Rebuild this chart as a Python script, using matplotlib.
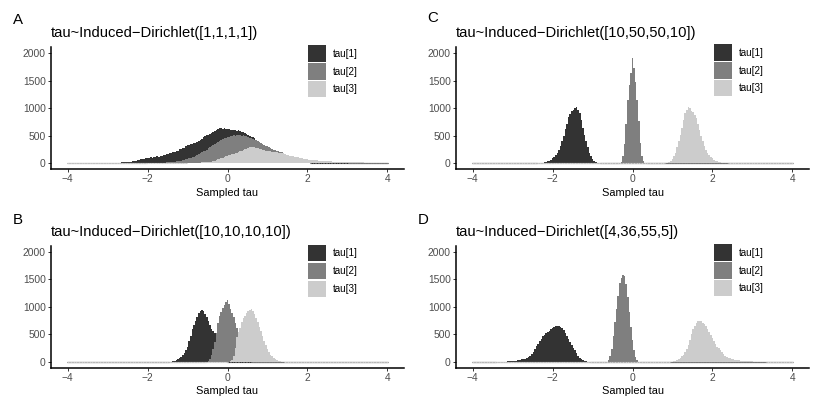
import matplotlib
matplotlib.use('Agg')
import matplotlib.pyplot as plt
import numpy as np
from matplotlib.patches import Patch

plt.rcParams['font.family'] = ['Liberation Sans', 'DejaVu Sans']

W, H = 822, 411
bin_width = 0.04
centers = np.round(np.arange(-4, 4 + bin_width / 2, bin_width), 2)

series_names = ['tau[1]', 'tau[2]', 'tau[3]']
fills = ['#333333', '#7f7f7f', '#cccccc']

# histogram counts per 0.04 bin, given from a first bin centre
a_tau1_start = -4.00
a_tau1 = [1, 1, 1, 2, 1, 2, 2, 3, 2, 3, 3, 4, 3, 4, 5, 4, 5, 6, 5, 7, 6, 8, 7, 9, 9, 10, 11, 10, 12, 13, 12, 13, 14,
          14, 16, 17, 19, 21, 23, 26, 30, 35, 42, 50, 58, 66, 72, 78, 84, 90,
          96, 92, 106, 104, 116, 112, 125, 122, 138, 132, 150, 146, 165, 160, 178, 186, 205, 198, 228, 226, 252, 258, 282, 280, 310,
          325, 330, 348, 352, 372, 375, 395, 400, 425, 440, 470, 490, 505, 515, 540, 550, 570, 580, 600, 615, 640, 645, 630, 640, 625,
          615, 630, 605, 610, 600, 605, 590, 595, 580, 570, 560, 555, 540, 520, 500, 485, 470, 450,
          430, 400, 360, 330, 300, 270, 240, 210, 185, 165, 145, 125, 110, 95, 80, 70, 60, 50, 42, 35, 30, 25, 20, 16, 13, 10, 8, 6, 5, 4, 3, 2, 2, 1]
a_tau2_start = -2.00
a_tau2 = [2, 2, 3, 3, 4, 5, 6, 7, 8, 10, 12, 14, 16, 19, 22, 25, 28, 32, 36, 40, 45, 50, 56, 62, 70,
          78, 88, 98, 108, 118, 130, 145, 160, 178, 196, 215, 232, 250, 270, 290, 310, 335, 350, 365, 385, 405, 420, 435, 450, 465,
          475, 480, 490, 500, 505, 495, 505, 515, 510, 500, 505, 495, 500, 470, 460, 450, 440, 425, 415, 400, 385, 370, 355, 335, 320,
          305, 290, 275, 260, 250, 240, 232, 222, 212, 200, 180, 160, 145, 130, 115, 100, 90, 80, 70, 62, 55, 48, 42, 37, 32,
          28, 25, 22, 19, 17, 15, 13, 11, 10, 9, 8, 7, 6, 5, 5, 4, 4, 3, 3, 3, 2, 2, 2, 1, 1, 1]
a_tau3_start = -1.00
a_tau3 = [2, 3, 4, 5, 6, 8, 10, 12, 14, 16, 18, 20, 22, 24, 27, 32, 40, 50, 60, 70, 82, 92, 102, 115, 125,
          135, 145, 155, 165, 175, 185, 195, 205, 215, 225, 240, 255, 265, 280, 290, 295, 300, 290, 285, 275, 265, 255, 250, 240, 232,
          225, 222, 218, 212, 208, 203, 198, 195, 192, 185, 178, 168, 158, 148, 138, 130, 125, 120, 115, 108, 100, 95, 88, 82, 77,
          72, 68, 64, 61, 58, 55, 52, 50, 48, 46, 44, 42, 40, 38, 36, 34, 32, 30, 29, 27, 26, 25, 24, 23, 22,
          21, 20, 19, 19, 18, 18, 17, 17, 16, 16, 15, 14, 14, 13, 12, 12, 11, 11, 10, 9, 9, 8, 7, 7, 6, 5]

b_tau1_start = -1.44
b_tau1 = [3, 6, 12, 20, 35, 55, 75, 95, 130, 170, 220, 280, 380, 480, 590, 680, 750, 820, 880, 920, 950, 930, 870, 810,
          740, 670, 600, 560, 520, 480, 360, 210, 100, 40, 12, 4]
b_tau2_start = -0.52
b_tau2 = [4, 15, 50, 120, 230, 370, 520, 700, 830, 910, 980, 1030, 1080, 1130, 1050, 960, 880, 810, 700, 610, 540, 450,
          340, 240, 150, 90, 45, 18, 6]
b_tau3_start = 0.04
b_tau3 = [4, 12, 40, 110, 260, 450, 540, 620, 720, 790, 840, 880, 920, 940, 960, 930, 870, 800, 720, 640, 560, 470, 380,
          300, 230, 180, 130, 100, 70, 48, 30, 18, 10, 5, 2]

c_tau1_start = -2.36
c_tau1 = [3, 5, 8, 12, 18, 25, 35, 50, 65, 90, 120, 150, 190, 250, 320, 400, 500, 620, 720, 840, 900, 950, 960, 1000,
          1020, 960, 920, 780, 640, 520, 400, 290, 190, 130, 80, 45, 25, 12, 5]
c_tau2_start = -0.32
c_tau2 = [5, 20, 140, 350, 715, 1150, 1420, 1630, 1915, 1720, 1480, 1150, 760, 370, 130, 40, 10]
c_tau3_start = 0.84
c_tau3 = [5, 12, 25, 45, 80, 130, 190, 290, 400, 520, 640, 780, 920, 970, 1020, 1010, 950, 930, 880, 820, 720, 610,
          500, 410, 320, 250, 190, 150, 115, 90, 65, 50, 35, 25, 18, 12, 8, 5, 3]

d_tau1_start = -3.40
d_tau1 = [2, 3, 4, 5, 6, 7, 8, 10, 12, 15, 18, 22, 26, 30, 36, 42, 48, 55, 62, 72, 90, 115, 150, 190, 240, 290, 335,
          380, 420, 465, 495, 525, 545, 565, 590, 610, 630, 650, 660, 655, 640, 610, 580, 520, 470, 420, 370, 310,
          260, 210, 160, 115, 80, 50, 30, 18, 10, 5, 2]
d_tau2_start = -0.64
d_tau2 = [8, 30, 100, 240, 470, 720, 960, 1200, 1430, 1520, 1580, 1560, 1420, 1180, 900, 640, 400, 210, 90, 30, 8]
d_tau3_start = 0.96
d_tau3 = [3, 8, 15, 25, 40, 55, 75, 100, 130, 180, 235, 300, 390, 500, 590, 660, 715, 745, 750, 740, 715, 685, 650,
          600, 550, 495, 440, 380, 330, 280, 245, 210, 180, 145, 115, 95, 78, 68, 58, 50, 45, 40, 35, 30, 27, 24, 21,
          19, 17, 15, 13, 11, 9, 8, 7, 6, 5, 4, 3, 2]


def spread(start, counts):
    out = np.zeros(len(centers))
    i0 = int(round((start + 4) / bin_width))
    out[i0:i0 + len(counts)] = counts
    return out


# tag, title, series, axes box (left, top, right, bottom px), tag xy, legend xy
panels = [
    ('A', 'tau~Induced\u2212Dirichlet([1,1,1,1])',
     [(a_tau1_start, a_tau1), (a_tau2_start, a_tau2), (a_tau3_start, a_tau3)],
     (51, 47.2, 404, 169.1), (13, 20), (307.5, 45.5)),
    ('B', 'tau~Induced\u2212Dirichlet([10,10,10,10])',
     [(b_tau1_start, b_tau1), (b_tau2_start, b_tau2), (b_tau3_start, b_tau3)],
     (51, 245.9, 404, 367.8), (13, 220), (307.5, 245)),
    ('C', 'tau~Induced\u2212Dirichlet([10,50,50,10])',
     [(c_tau1_start, c_tau1), (c_tau2_start, c_tau2), (c_tau3_start, c_tau3)],
     (456, 47.2, 809, 169.1), (427, 18.5), (713.5, 44.5)),
    ('D', 'tau~Induced\u2212Dirichlet([4,36,55,5])',
     [(d_tau1_start, d_tau1), (d_tau2_start, d_tau2), (d_tau3_start, d_tau3)],
     (456, 245.9, 809, 367.8), (417.5, 220), (713.5, 244.5)),
]

fig = plt.figure(figsize=(W / 100, H / 100), dpi=100)

for tag, title, series, box, tag_xy, leg_xy in panels:
    left, top, right, bottom = box
    ax = fig.add_axes([left / W, 1 - bottom / H, (right - left) / W, (bottom - top) / H])
    for (start, counts), col in zip(series, fills):
        h = spread(start, counts)
        lw = np.where(h == 0, 0.8, 0.0)
        ax.bar(centers, h, width=bin_width, color=col, edgecolor=col, linewidth=lw)

    ax.set_xlim(-4.42, 4.42)
    ax.set_ylim(-105, 2105)
    ax.set_xticks([-4, -2, 0, 2, 4])
    ax.set_yticks([0, 500, 1000, 1500, 2000])
    for s in ['top', 'right']:
        ax.spines[s].set_visible(False)
    for s in ['left', 'bottom']:
        ax.spines[s].set_linewidth(1.1)
        ax.spines[s].set_color('black')
    ax.tick_params(length=2.2, width=0.7, color='#333333', labelcolor='#4d4d4d',
                   labelsize=7.4, pad=1.6)
    ax.set_xlabel('Sampled tau', fontsize=7.9, labelpad=2.3)

    fig.text(left / W, 1 - (top - 14) / H, title, fontsize=10.6, va='center', ha='left')
    fig.text(tag_xy[0] / W, 1 - tag_xy[1] / H, tag, fontsize=10.8, va='center', ha='left')

    handles = [Patch(facecolor=c, edgecolor='none', label=n) for c, n in zip(fills, series_names)]
    ax.legend(handles=handles, loc='upper left',
              bbox_to_anchor=(leg_xy[0] / W, 1 - leg_xy[1] / H), bbox_transform=fig.transFigure,
              frameon=False, fontsize=7.1, handlelength=1.88, handleheight=2.15,
              labelspacing=0.17, handletextpad=0.72, borderpad=0, borderaxespad=0)

fig.savefig('out.png', dpi=100)
